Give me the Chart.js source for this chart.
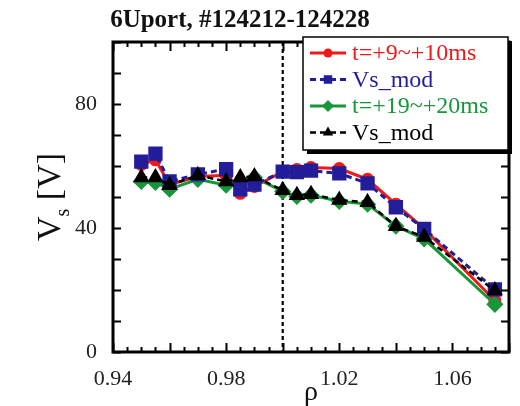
<!DOCTYPE html>
<html>
<head>
<meta charset="utf-8">
<script src="https://cdn.jsdelivr.net/npm/chart.js@4.4.1/dist/chart.umd.min.js"></script>
<style>
  html, body { margin: 0; padding: 0; background: #fff; }
  #wrap { width: 520px; height: 406px; position: relative; }
</style>
</head>
<body>
<div id="wrap"><canvas id="c"></canvas></div>
<script>
// --- Datos ---
const rho = [0.950, 0.955, 0.960, 0.970, 0.980, 0.985, 0.990, 1.000, 1.005, 1.010, 1.020, 1.030, 1.040, 1.050, 1.075];
const vsT9 = [60.5, 62.0, 54.0, 56.6, 57.0, 51.2, 53.4, 58.2, 58.9, 59.5, 59.2, 55.7, 47.7, 39.7, 16.6];
const vsMod1 = [61.4, 64.0, 55.0, 57.3, 59.0, 52.5, 54.0, 58.2, 58.0, 58.5, 57.6, 54.4, 46.7, 39.7, 20.2];
const vsT19 = [55.0, 54.7, 52.5, 55.7, 53.8, 55.0, 56.3, 51.8, 50.2, 50.6, 48.6, 47.7, 40.6, 36.5, 15.4];
const vsMod2 = [56.3, 56.3, 53.8, 57.0, 55.0, 56.3, 56.6, 52.2, 50.6, 50.9, 49.0, 48.3, 40.6, 37.1, 19.8];

const labels = ['t=+9~+10ms', 'Vs_mod', 't=+19~+20ms', 'Vs_mod'];
const xTicks = [0.94, 0.98, 1.02, 1.06];
const yTicks = [0, 40, 80];
const sepRho = 1.0;

const SERIF = '"Liberation Serif", "DejaVu Serif", serif';
const RED = '#f01818', BLUE = '#231d9a', GREEN = '#17963a', BLACK = '#000';

const pts = (ys) => rho.map((x, i) => ({ x, y: ys[i] }));

// --- Marcadores (para la leyenda) ---
function drawMarker(ctx, style, x, y, r, color) {
  ctx.save();
  ctx.fillStyle = color;
  ctx.beginPath();
  if (style === 'circle') {
    ctx.arc(x, y, r, 0, Math.PI * 2);
  } else if (style === 'rect') {
    const s = r * Math.SQRT1_2;
    ctx.rect(x - s, y - s, 2 * s, 2 * s);
  } else if (style === 'rectRot') {
    ctx.moveTo(x - r, y); ctx.lineTo(x, y - r); ctx.lineTo(x + r, y); ctx.lineTo(x, y + r);
    ctx.closePath();
  } else if (style === 'triangle') {
    ctx.moveTo(x - r * 0.87, y + r * 0.5); ctx.lineTo(x, y - r); ctx.lineTo(x + r * 0.87, y + r * 0.5);
    ctx.closePath();
  }
  ctx.fill();
  ctx.restore();
}

// --- Plugin: marco, ticks internos, línea punteada, títulos, leyenda ---
const decor = {
  id: 'decor',
  beforeDatasetsDraw(c) {
    const { ctx, chartArea: a, scales: { x } } = c;
    // línea vertical en rho = 1
    const px = x.getPixelForValue(sepRho);
    ctx.save();
    ctx.strokeStyle = '#000';
    ctx.lineWidth = 2.2;
    ctx.setLineDash([4, 3]);
    ctx.beginPath();
    ctx.moveTo(px, a.top); ctx.lineTo(px, a.bottom);
    ctx.stroke();
    ctx.restore();
  },
  afterDraw(c) {
    const { ctx, chartArea: a, scales: { x, y } } = c;
    ctx.save();
    // ticks hacia dentro
    ctx.strokeStyle = '#000';
    ctx.lineWidth = 2;
    ctx.beginPath();
    for (let k = 0; k <= 28; k++) {
      const v = 0.94 + k * 0.005;
      const px = Math.round(x.getPixelForValue(v)) + 0.5;
      const len = (k % 4 === 0) ? 9 : 5;
      ctx.moveTo(px, a.bottom); ctx.lineTo(px, a.bottom - len);
      ctx.moveTo(px, a.top); ctx.lineTo(px, a.top + len);
    }
    for (let k = 0; k <= 10; k++) {
      const py = Math.round(y.getPixelForValue(k * 10)) + 0.5;
      const len = 8;
      ctx.moveTo(a.left, py); ctx.lineTo(a.left + len, py);
      ctx.moveTo(a.right, py); ctx.lineTo(a.right - len, py);
    }
    ctx.stroke();
    // marco
    ctx.lineWidth = 3;
    ctx.strokeRect(a.left, a.top, a.right - a.left, a.bottom - a.top);

    // título
    ctx.fillStyle = '#111';
    ctx.font = 'bold 25px ' + SERIF;
    ctx.textAlign = 'center';
    ctx.textBaseline = 'middle';
    ctx.fillText('6Uport, #124212-124228', 240, 21);

    // eje x
    ctx.font = '28px ' + SERIF;
    ctx.fillText('ρ', (a.left + a.right) / 2, 393);

    // eje y (V con subíndice s)
    ctx.save();
    ctx.translate(60, (a.top + a.bottom) / 2);
    ctx.rotate(-Math.PI / 2);
    ctx.textAlign = 'left';
    ctx.textBaseline = 'alphabetic';
    ctx.font = '34px ' + SERIF;
    const wV = ctx.measureText('V').width;
    const wB = ctx.measureText(' [V]').width;
    ctx.font = '20px ' + SERIF;
    const wS = ctx.measureText('s').width;
    const x0 = -(wV + wS + wB) / 2;
    ctx.font = '34px ' + SERIF;
    ctx.fillText('V', x0, 0);
    ctx.font = '20px ' + SERIF;
    ctx.fillText('s', x0 + wV, 9);
    ctx.font = '34px ' + SERIF;
    ctx.fillText(' [V]', x0 + wV + wS, 0);
    ctx.restore();

    // leyenda
    const bx = 303, by = 37, bw = 205, bh = 113;
    ctx.fillStyle = '#000';
    ctx.fillRect(bx + 4, by + 4, bw, bh);
    ctx.fillStyle = '#fff';
    ctx.fillRect(bx, by, bw, bh);
    ctx.lineWidth = 1.5;
    ctx.strokeStyle = '#000';
    ctx.strokeRect(bx, by, bw, bh);
    ctx.font = '24px ' + SERIF;
    ctx.textAlign = 'left';
    ctx.textBaseline = 'middle';
    c.data.datasets.forEach((ds, i) => {
      const ry = 53 + i * 26.5;
      ctx.save();
      ctx.strokeStyle = ds.borderColor;
      ctx.lineWidth = ds.borderWidth;
      ctx.setLineDash(ds.borderDash || []);
      ctx.beginPath();
      ctx.moveTo(310, ry); ctx.lineTo(346, ry);
      ctx.stroke();
      ctx.restore();
      drawMarker(ctx, ds.pointStyle, 328, ry, ds.pointStyle === 'circle' ? 4.5 : 6, ds.pointBackgroundColor);
      ctx.fillStyle = ds.borderColor;
      ctx.fillText(ds.label, 352, ry + 1);
    });
    ctx.restore();
  }
};

const ctx = document.getElementById('c').getContext('2d');
new Chart(ctx, {
  type: 'line',
  data: {
    datasets: [
      { label: labels[0], data: pts(vsT9), borderColor: RED, pointBackgroundColor: RED, pointBorderColor: RED,
        borderWidth: 3, pointStyle: 'circle', pointRadius: 5, order: 4 },
      { label: labels[1], data: pts(vsMod1), borderColor: BLUE, pointBackgroundColor: BLUE, pointBorderColor: BLUE,
        borderWidth: 3, borderDash: [6, 4], pointStyle: 'rect', pointRadius: 8, order: 2 },
      { label: labels[2], data: pts(vsT19), borderColor: GREEN, pointBackgroundColor: GREEN, pointBorderColor: GREEN,
        borderWidth: 3, pointStyle: 'rectRot', pointRadius: 6.5, order: 3 },
      { label: labels[3], data: pts(vsMod2), borderColor: BLACK, pointBackgroundColor: BLACK, pointBorderColor: BLACK,
        borderWidth: 2.5, borderDash: [6, 4], pointStyle: 'triangle', pointRadius: 7, order: 1 }
    ]
  },
  options: {
    responsive: true,
    maintainAspectRatio: false,
    animation: false,
    layout: { padding: { top: 42, right: 8, left: 0, bottom: 0 } },
    plugins: { legend: { display: false }, tooltip: { enabled: false } },
    elements: { line: { tension: 0 }, point: { borderWidth: 0 } },
    scales: {
      x: {
        type: 'linear', min: 0.94, max: 1.08,
        grid: { display: false },
        border: { display: false },
        afterBuildTicks: (s) => { s.ticks = xTicks.map(v => ({ value: v })); },
        afterFit: (s) => { s.height = 54; },
        ticks: { color: '#222', padding: 6, maxRotation: 0, font: { family: SERIF, size: 22 },
          callback: (v) => v.toFixed(2) }
      },
      y: {
        min: 0, max: 100,
        grid: { display: false },
        border: { display: false },
        afterBuildTicks: (s) => { s.ticks = yTicks.map(v => ({ value: v })); },
        afterFit: (s) => { s.width = 113; },
        ticks: { color: '#222', padding: 8, font: { family: SERIF, size: 22 } }
      }
    }
  },
  plugins: [decor]
});
</script>
</body>
</html>
